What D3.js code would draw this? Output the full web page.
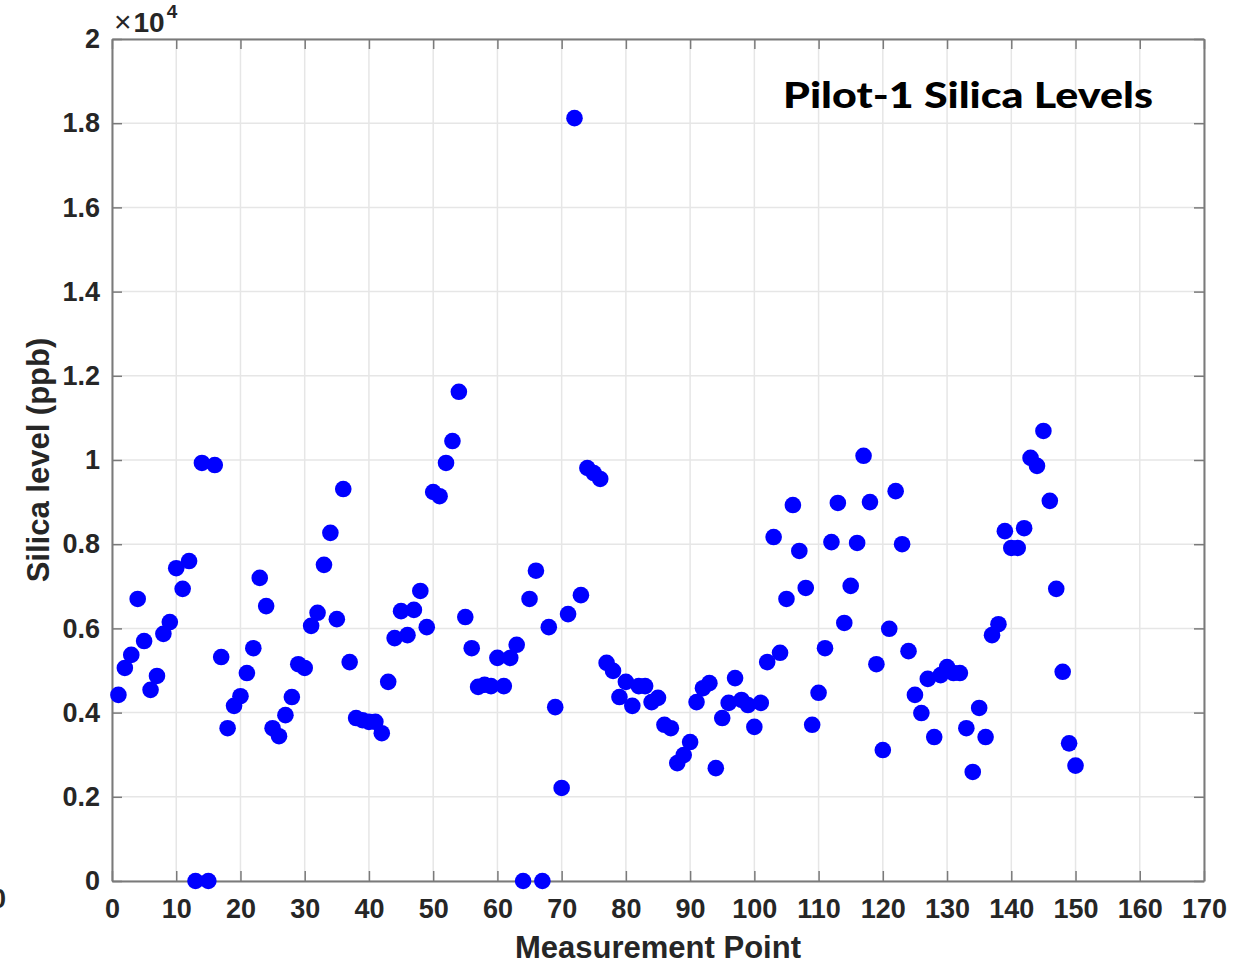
<!DOCTYPE html>
<html>
<head>
<meta charset="utf-8">
<script src="https://cdn.jsdelivr.net/npm/d3@7/dist/d3.min.js"></script>
<style>
  html, body { margin: 0; padding: 0; background: #fff; }
  svg { display: block; }
</style>
</head>
<body>
<svg id="chart" width="1256" height="966"></svg>
<script>
// Measurement points 1..150 and silica level in ppb
const measurementPoints = d3.range(1, 151);
const silicaPpb = [
  4420, 5060, 5370, 6700, 5700, 4540, 4870, 5870, 6150, 7430,
  6940, 7600, 0, 9930, 0, 9880, 5320, 3630, 4160, 4390,
  4940, 5530, 7200, 6530, 3630, 3440, 3940, 4370, 5150, 5060,
  6060, 6370, 7510, 8270, 6220, 9310, 5200, 3870, 3820, 3780,
  3780, 3510, 4730, 5770, 6410, 5840, 6440, 6890, 6030, 9240,
  9140, 9930, 10450, 11620, 6270, 5530, 4610, 4660, 4630, 5300,
  4630, 5300, 5610, 0, 6700, 7370, 0, 6030, 4130, 2210,
  6340, 18120, 6790, 9810, 9690, 9550, 5180, 4990, 4370, 4730,
  4160, 4630, 4630, 4250, 4350, 3710, 3630, 2800, 2990, 3300,
  4250, 4580, 4700, 2680, 3870, 4230, 4820, 4300, 4180, 3660,
  4230, 5200, 8170, 5420, 6700, 8930, 7840, 6960, 3710, 4470,
  5530, 8050, 8980, 6130, 7010, 8030, 10100, 9000, 5150, 3110,
  5990, 9260, 8000, 5460, 4420, 3990, 4800, 3420, 4890, 5080,
  4940, 4940, 3630, 2590, 4110, 3420, 5840, 6100, 8310, 7910,
  7910, 8380, 10050, 9860, 10690, 9030, 6940, 4970, 3270, 2740
];
const xTicks = d3.range(0, 171, 10);
const yTicks = d3.range(0, 20001, 2000);
const titleText = "Pilot-1 Silica Levels";
const xLabel = "Measurement Point";
const yLabel = "Silica level (ppb)";

const svg = d3.select("#chart");
const pLeft = 112, pTop = 39, pRight = 1204, pBottom = 881;

const x = d3.scaleLinear().domain([0, 170]).range([pLeft, pRight]);
const y = d3.scaleLinear().domain([0, 20000]).range([pBottom, pTop]);

const axisColor = "#7a7a7a";
const textColor = "#262626";
const font = "'Liberation Sans', Arial, Helvetica, sans-serif";

// grid
const grid = svg.append("g");
grid.selectAll("line.gx").data(xTicks).join("line").attr("class", "gx")
  .attr("x1", d => x(d)).attr("x2", d => x(d))
  .attr("y1", pTop).attr("y2", pBottom)
  .attr("stroke", "#e6e6e6").attr("stroke-width", 1.5);
grid.selectAll("line.gy").data(yTicks).join("line").attr("class", "gy")
  .attr("y1", d => y(d)).attr("y2", d => y(d))
  .attr("x1", pLeft).attr("x2", pRight)
  .attr("stroke", "#e6e6e6").attr("stroke-width", 1.5);

// axes (ticks inside, mirrored)
const tickLen = 10;
const fmtY = d => d3.format("~g")(d / 10000);

const xAxisB = svg.append("g").attr("transform", `translate(0,${pBottom})`)
  .call(d3.axisBottom(x).tickValues(xTicks).tickSizeInner(-tickLen).tickSizeOuter(0).tickPadding(18).tickFormat(d3.format("d")));
const xAxisT = svg.append("g").attr("transform", `translate(0,${pTop})`)
  .call(d3.axisTop(x).tickValues(xTicks).tickSizeInner(-tickLen).tickSizeOuter(0).tickFormat(""));
const yAxisL = svg.append("g").attr("transform", `translate(${pLeft},0)`)
  .call(d3.axisLeft(y).tickValues(yTicks).tickSizeInner(-tickLen).tickSizeOuter(0).tickPadding(12).tickFormat(fmtY));
const yAxisR = svg.append("g").attr("transform", `translate(${pRight},0)`)
  .call(d3.axisRight(y).tickValues(yTicks).tickSizeInner(-tickLen).tickSizeOuter(0).tickFormat(""));

[xAxisB, xAxisT, yAxisL, yAxisR].forEach(g => {
  g.select(".domain").attr("stroke", axisColor).attr("stroke-width", 2);
  g.selectAll(".tick line").attr("stroke", axisColor).attr("stroke-width", 1.5);
  g.selectAll(".tick text")
    .attr("fill", textColor)
    .style("font-family", font)
    .style("font-weight", "bold")
    .style("font-size", "27px");
});
xAxisB.selectAll(".tick text").attr("dy", "0.71em");

// markers
svg.append("g").selectAll("circle").data(measurementPoints).join("circle")
  .attr("cx", (d) => x(d))
  .attr("cy", (d, i) => y(silicaPpb[i]))
  .attr("r", 8.3)
  .attr("fill", "#0000ff");

// exponent label
const ex = svg.append("text").attr("x", 114).attr("y", 32)
  .attr("fill", textColor).style("font-family", font).style("font-size", "28px");
ex.append("tspan").style("font-weight", "normal").style("font-size", "30px").text("×");
ex.append("tspan").style("font-weight", "bold").attr("dx", 2).text("10");
ex.append("tspan").style("font-weight", "bold").style("font-size", "19px").attr("dy", -14).attr("dx", 2).text("4");

// axis labels
svg.append("text")
  .attr("x", (pLeft + pRight) / 2).attr("y", 958)
  .attr("text-anchor", "middle")
  .attr("fill", textColor)
  .style("font-family", font).style("font-weight", "bold").style("font-size", "31px")
  .text(xLabel);

svg.append("text")
  .attr("transform", `translate(49,${(pTop + pBottom) / 2}) rotate(-90)`)
  .attr("text-anchor", "middle")
  .attr("fill", textColor)
  .style("font-family", font).style("font-weight", "bold").style("font-size", "31px")
  .text(yLabel);

// title
svg.append("text")
  .attr("x", 783).attr("y", 108)
  .attr("textLength", 370).attr("lengthAdjust", "spacingAndGlyphs")
  .attr("fill", "#000")
  .style("font-family", "Lato, 'Open Sans', sans-serif").style("font-weight", "900").style("font-size", "36px")
  .text(titleText);

// stray clipped label at left edge (partially visible in the original)
svg.append("text")
  .attr("x", 6).attr("y", 908).attr("text-anchor", "end")
  .attr("fill", textColor)
  .style("font-family", font).style("font-weight", "bold").style("font-size", "27px")
  .text("0");
</script>
</body>
</html>
